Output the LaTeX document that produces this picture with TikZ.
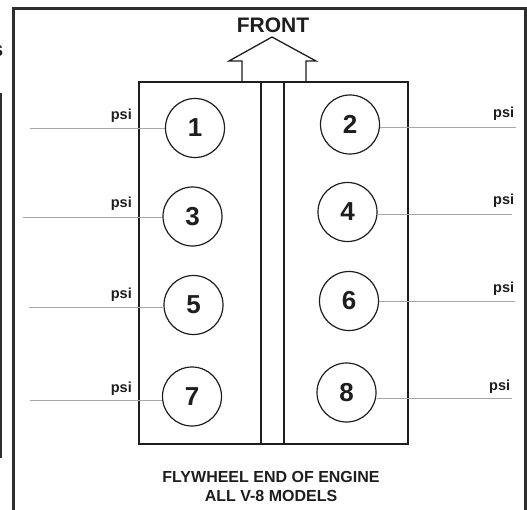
\documentclass[tikz,border=0pt]{standalone}
\usepackage{fontspec}
\setmainfont{Liberation Sans}
\definecolor{ink}{HTML}{1E1E1E}
\definecolor{framec}{HTML}{2E2E2E}
\definecolor{leader}{HTML}{A8A8A8}
\begin{document}
\begin{tikzpicture}[x=1bp,y=-1bp,
  cyl/.style={circle,draw=ink,line width=1.2bp,minimum size=59bp,inner sep=0pt,
    font=\fontsize{26bp}{28bp}\selectfont\bfseries,text=ink},
  psil/.style={inner sep=0pt,font=\fontsize{14.5bp}{16bp}\selectfont\bfseries,text=ink},
  leadline/.style={draw=leader,line width=0.8bp},
  blockline/.style={draw=ink,line width=1.3bp},
  caption/.style={inner sep=0pt,font=\fontsize{16bp}{19bp}\selectfont\bfseries,text=ink,anchor=base}]
\useasboundingbox (0,0) rectangle (527,510);
\fill[white] (0,0) rectangle (527,510);
% outer frame
\draw[framec,line width=2.5bp] (13.5,510) -- (13.5,8.5) -- (525.5,8.5) -- (525.5,510);
% fragments of neighbouring figure
\draw[framec,line width=1.5bp] (1,93) -- (1,458);
\begin{scope}
\clip (0,40) rectangle (4,60);
\node[inner sep=0pt,anchor=base east,font=\fontsize{21bp}{24bp}\selectfont\bfseries,text=ink] (frag) at (3.5,57) {s};
\end{scope}
% engine block
\draw[blockline] (139,82) rectangle (408,444);
\draw[blockline] (261,82) -- (261,444);
\draw[blockline] (284,82) -- (284,444);
% front arrow
\draw[blockline,line join=miter] (242,82) -- (242,61) -- (229,61) -- (272,37) -- (316,61) -- (306,61) -- (306,82);
\node[inner sep=0pt,anchor=base,font=\fontsize{21bp}{24bp}\selectfont\bfseries,text=ink] (front) at (273,33) {FRONT};
% cylinders
\node[cyl] (c1) at (195,128) {1};
\node[cyl] (c2) at (350,124.5) {2};
\node[cyl] (c3) at (192.5,216.5) {3};
\node[cyl] (c4) at (347.5,212) {4};
\node[cyl] (c5) at (193.5,305) {5};
\node[cyl] (c6) at (349,301) {6};
\node[cyl] (c7) at (192,396.5) {7};
\node[cyl] (c8) at (346.5,392.5) {8};
% leader line ends
\coordinate (l1) at (30,128);
\coordinate (l3) at (23,217);
\coordinate (l5) at (29,307);
\coordinate (l7) at (30,400);
\coordinate (r2) at (516,127);
\coordinate (r4) at (512,214);
\coordinate (r6) at (515,301);
\coordinate (r8) at (512,398);
\draw[leadline] (l1) -- (l1 -| c1.west);
\draw[leadline] (l3) -- (l3 -| c3.west);
\draw[leadline] (l5) -- (l5 -| c5.west);
\draw[leadline] (l7) -- (l7 -| c7.west);
\draw[leadline] (c2.east |- r2) -- (r2);
\draw[leadline] (c4.east |- r4) -- (r4);
\draw[leadline] (c6.east |- r6) -- (r6);
\draw[leadline] (c8.east |- r8) -- (r8);
% psi labels
\node[psil,anchor=base east] (p1) at (132,120) {psi};
\node[psil,anchor=base east] (p3) at (132,208) {psi};
\node[psil,anchor=base east] (p5) at (132,298) {psi};
\node[psil,anchor=base east] (p7) at (132,392) {psi};
\node[psil,anchor=base west] (p2) at (493,118) {psi};
\node[psil,anchor=base west] (p4) at (493,205) {psi};
\node[psil,anchor=base west] (p6) at (493,292) {psi};
\node[psil,anchor=base west] (p8) at (489,390) {psi};
% caption
\node[caption] (cap1) at (271,482) {FLYWHEEL END OF ENGINE};
\node[caption] (cap2) at (271,501) {ALL V-8 MODELS};
\end{tikzpicture}
\end{document}
